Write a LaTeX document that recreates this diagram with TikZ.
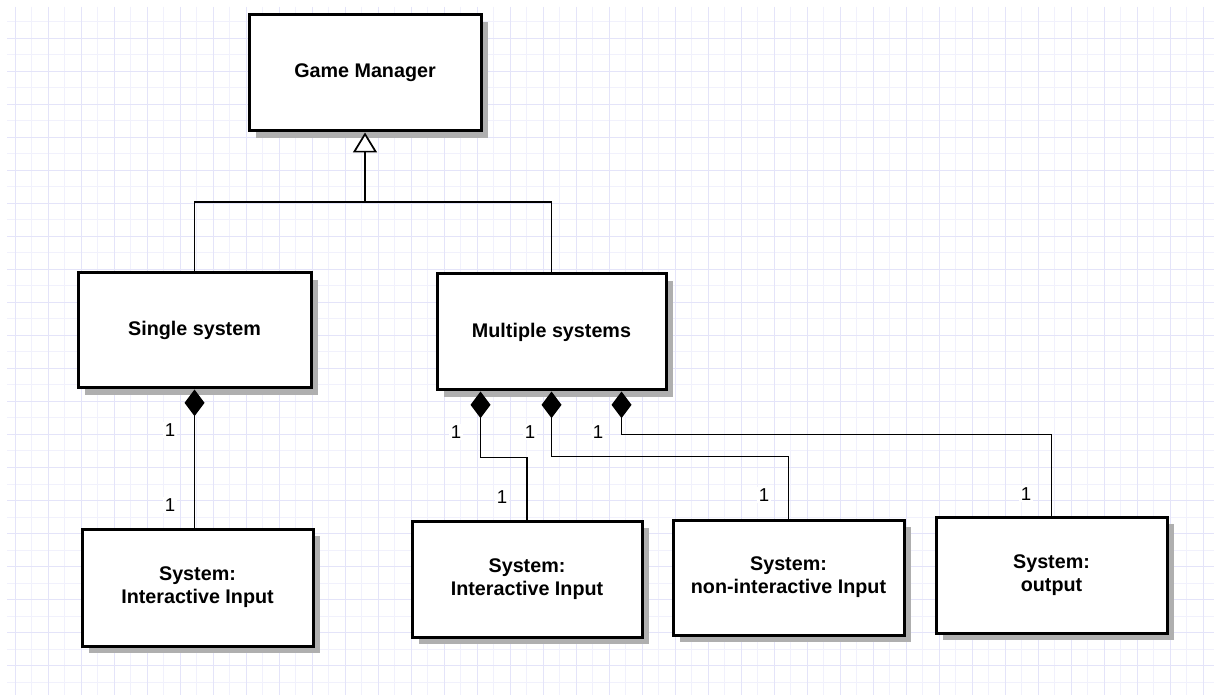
\documentclass[tikz,border=0pt]{standalone}
\usepackage{fontspec}
\setmainfont{Liberation Sans}
\usetikzlibrary{arrows.meta,shadows,calc}
\definecolor{gridminor}{RGB}{241,241,252}
\definecolor{gridmajor}{RGB}{228,228,249}
\definecolor{shade}{RGB}{175,175,175}
\begin{document}
\begin{tikzpicture}[x=0.75pt,y=-0.75pt,
  classbox/.style 2 args={draw=black, line width=2.25pt, fill=white, inner sep=0pt,
    align=center, minimum width=#1*0.75pt, minimum height=#2*0.75pt,
    font=\fontsize{14.8pt}{17.3pt}\selectfont\bfseries,
    drop shadow={shadow xshift=5.25pt, shadow yshift=-5.25pt, fill=shade, opacity=1}},
  link/.style={draw=black, line width=1.4pt},
  generalize/.style={link, -{Triangle[fill=white, length=15pt, width=18pt, line width=1.3pt]}},
  compose/.style={link, -{Diamond[length=20pt, width=15pt]}},
  mult/.style={fill=white, inner sep=1.5pt, font=\fontsize{14pt}{16pt}\selectfont},
  gridline/.style={line width=0.75pt}
]
\useasboundingbox (0,0) rectangle (1214,698);
\fill[white] (0,0) rectangle (1214,698);

% background grid
\foreach \k in {0,...,35} \draw[gridline, gridminor] ({31.5+33*\k},7) -- ({31.5+33*\k},695);
\foreach \k in {0,...,20} \draw[gridline, gridminor] (7,{22+33*\k}) -- (1214,{22+33*\k});
\foreach \k in {0,...,36} \draw[gridline, gridmajor] ({15+33*\k},7) -- ({15+33*\k},695);
\foreach \k in {0,...,19} \draw[gridline, gridmajor] (7,{38.5+33*\k}) -- (1214,{38.5+33*\k});

% classes
\node[classbox={232}{116}] (gm) at (365,73)    {Game Manager};
\node[classbox={233}{115}] (ss) at (194.5,330.5) {Single system};
\node[classbox={229}{116}] (ms) at (551.5,332) {Multiple systems};
\node[classbox={231}{117}] (b1) at (197.5,587.5) {System:\\Interactive Input};
\node[classbox={230}{116}] (b2) at (527,579)   {System:\\Interactive Input};
\node[classbox={231}{115}] (b3) at (788.5,577.5) {System:\\non-interactive Input};
\node[classbox={231}{116}] (b4) at (1051.5,575) {System:\\output};

% generalization
\coordinate (jn) at (365,202);
\draw[link] (ss.north) |- (jn) -| (ms.north);
\draw[generalize] (jn) -- (gm.south);

% compositions
\draw[compose] (b1.north -| ss.south) -- (ss.south);
\draw[compose] (b2.north) |- ($(ms.south)+(-71,66)$) -- ($(ms.south)+(-71,0)$);
\draw[compose] (b3.north) |- ($(ms.south)+(0,65)$) -- (ms.south);
\draw[compose] (b4.north) |- ($(ms.south)+(70,43)$) -- ($(ms.south)+(70,0)$);

% multiplicities
\node[mult] (m1a) at (170,430) {1};
\node[mult] (m1b) at (170,505) {1};
\node[mult] (m2a) at (456,432) {1};
\node[mult] (m2b) at (502,497) {1};
\node[mult] (m3a) at (530,432) {1};
\node[mult] (m3b) at (764,495) {1};
\node[mult] (m4a) at (598,432) {1};
\node[mult] (m4b) at (1026,494) {1};
\end{tikzpicture}
\end{document}
